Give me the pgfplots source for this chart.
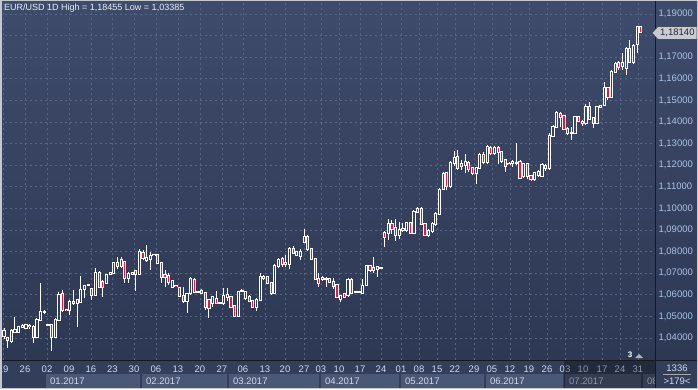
\documentclass[border=0pt]{standalone}
\usepackage{pgfplots}
\pgfplotsset{compat=1.18}
\usepackage{pgfplotstable}
\usepackage{fontspec}
\setmainfont{Liberation Sans}
\pgfdeclarelayer{background}
\pgfsetlayers{background,main}
\definecolor{bgtop}{RGB}{63,75,107}
\definecolor{bgbot}{RGB}{45,56,83}
\definecolor{gridc}{RGB}{88,102,134}
\definecolor{ylab}{RGB}{170,195,230}
\definecolor{xlab}{RGB}{205,218,238}
\definecolor{titlec}{RGB}{232,238,248}
\definecolor{datebg}{RGB}{50,62,90}
\definecolor{monthbox}{RGB}{75,88,117}
\definecolor{candred}{RGB}{225,25,60}
\definecolor{upA}{RGB}{49,60,88}
\definecolor{upB}{RGB}{53,65,94}
\definecolor{upC}{RGB}{58,70,101}
\definecolor{framec}{RGB}{196,200,208}
\definecolor{tagc}{RGB}{200,204,210}
\definecolor{tagtext}{RGB}{30,40,60}
\newcommand\lblfont{\fontsize{9.5}{11}\selectfont}

\pgfplotstableread{
o h l c
1.0409 1.0446 1.0395 1.0432
1.0400 1.0405 1.0354 1.0391
1.0386 1.0442 1.0377 1.0432
1.0428 1.0497 1.0423 1.0437
1.0428 1.0456 1.0423 1.0451
1.0451 1.0465 1.0446 1.0456
1.0446 1.0465 1.0442 1.0460
1.0456 1.0465 1.0442 1.0453
1.0451 1.0460 1.0377 1.0405
1.0405 1.0493 1.0400 1.0483
1.0483 1.0655 1.0479 1.0520
1.0520 1.0530 1.0511 1.0518
1.0460 1.0465 1.0456 1.0458
1.0460 1.0465 1.03385 1.0405
1.0405 1.0493 1.0400 1.0483
1.0483 1.0613 1.0479 1.0599
1.0604 1.0622 1.0520 1.0530
1.0530 1.0534 1.0525 1.0527
1.0530 1.0576 1.0506 1.0567
1.0567 1.0622 1.0553 1.0562
1.0562 1.0581 1.0451 1.0576
1.0567 1.0687 1.0562 1.0622
1.0627 1.0641 1.0585 1.0641
1.0645 1.0650 1.0641 1.0643
1.0627 1.0632 1.0576 1.0599
1.0599 1.0724 1.0594 1.0701
1.0701 1.0710 1.0632 1.0636
1.0659 1.0669 1.0590 1.0636
1.0655 1.0696 1.0650 1.0692
1.0696 1.0706 1.0692 1.0701
1.0701 1.0752 1.0696 1.0747
1.0747 1.0775 1.0719 1.0733
1.0733 1.0775 1.0724 1.0761
1.0752 1.0757 1.0655 1.0678
1.0678 1.0706 1.0655 1.0696
1.0696 1.0706 1.0692 1.0701
1.0710 1.0715 1.0618 1.0696
1.0696 1.0812 1.0692 1.0798
1.0794 1.0807 1.0761 1.0770
1.0761 1.0831 1.0752 1.0770
1.0766 1.0798 1.0715 1.0780
1.0784 1.0789 1.0780 1.0787
1.0784 1.0789 1.0743 1.0747
1.0747 1.0752 1.0655 1.0682
1.0692 1.0715 1.0636 1.0682
1.0687 1.0701 1.0645 1.0659
1.0636 1.0669 1.0632 1.0664
1.0641 1.0645 1.0636 1.0638
1.0632 1.0636 1.0590 1.0594
1.0594 1.0636 1.0562 1.0571
1.0571 1.0608 1.0516 1.0604
1.0608 1.0682 1.0599 1.0673
1.0669 1.0678 1.0608 1.0613
1.0613 1.0618 1.0608 1.0611
1.0618 1.0627 1.0604 1.0608
1.0608 1.0613 1.0530 1.0544
1.0576 1.0581 1.0493 1.0539
1.0562 1.0594 1.0544 1.0590
1.0581 1.0618 1.0557 1.0562
1.0562 1.0567 1.0557 1.0560
1.0562 1.0632 1.0553 1.0594
1.0590 1.0632 1.0571 1.0599
1.0590 1.0594 1.0539 1.0544
1.0548 1.0553 1.0497 1.0502
1.0502 1.0618 1.0497 1.0613
1.0618 1.0627 1.0613 1.0620
1.0585 1.0618 1.0576 1.0613
1.0590 1.0599 1.0567 1.0571
1.0571 1.0576 1.0539 1.0544
1.0544 1.0585 1.0525 1.0576
1.0576 1.0701 1.0571 1.0682
1.0678 1.0692 1.0669 1.0682
1.0682 1.0687 1.0650 1.0655
1.0655 1.0659 1.0599 1.0608
1.0608 1.0743 1.0604 1.0733
1.0733 1.0770 1.0724 1.0761
1.0766 1.0775 1.0729 1.0743
1.0743 1.0784 1.0729 1.0747
1.0743 1.0821 1.0719 1.0812
1.0812 1.0826 1.0789 1.0794
1.0784 1.0803 1.0780 1.0798
1.0780 1.0812 1.0761 1.0798
1.0844 1.0906 1.0840 1.0868
1.0868 1.0877 1.0803 1.0812
1.0812 1.0817 1.0761 1.0766
1.0766 1.0770 1.0669 1.0673
1.0673 1.0701 1.0636 1.0655
1.0673 1.0687 1.0664 1.0678
1.0673 1.0682 1.0636 1.0671
1.0673 1.0678 1.0655 1.0659
1.0659 1.0678 1.0627 1.0641
1.0645 1.0650 1.0585 1.0590
1.0581 1.0599 1.0567 1.0594
1.0604 1.0608 1.0585 1.0590
1.0599 1.0678 1.0590 1.0669
1.0669 1.0678 1.0604 1.0608
1.0613 1.0618 1.0608 1.0615
1.0613 1.0618 1.0608 1.0614
1.0608 1.0673 1.0608 1.0641
1.0645 1.0738 1.0641 1.0733
1.0733 1.0738 1.0706 1.0715
1.0715 1.0775 1.0701 1.0724
1.0719 1.0733 1.0682 1.0729
1.0724 1.0724 1.0719 1.0722
1.0886 1.0895 1.0821 1.0868
1.0886 1.0951 1.0854 1.0928
1.0928 1.0946 1.0882 1.0905
1.0909 1.0951 1.0849 1.0877
1.0877 1.0937 1.0858 1.0900
1.0900 1.0932 1.0891 1.0905
1.0900 1.0937 1.0891 1.0932
1.0932 1.0937 1.0882 1.0886
1.0886 1.0993 1.0882 1.0983
1.0983 1.1007 1.0979 1.0997
1.0997 1.1007 1.0923 1.0928
1.0928 1.0932 1.0872 1.0877
1.0877 1.0905 1.0868 1.0895
1.0895 1.0937 1.0886 1.0928
1.0928 1.0983 1.0919 1.0974
1.0974 1.1095 1.0969 1.1085
1.1090 1.1169 1.1085 1.1159
1.1164 1.1169 1.1085 1.1104
1.1104 1.1220 1.1095 1.1210
1.1210 1.1266 1.1196 1.1233
1.1238 1.1270 1.1178 1.1187
1.1196 1.1224 1.1178 1.1206
1.1201 1.1252 1.1164 1.1215
1.1210 1.1220 1.1169 1.1182
1.1187 1.1192 1.1155 1.1164
1.1164 1.1192 1.1113 1.1187
1.1187 1.1257 1.1182 1.1247
1.1247 1.1261 1.1206 1.1215
1.1215 1.1294 1.1206 1.1284
1.1280 1.1289 1.1247 1.1257
1.1257 1.1289 1.1247 1.1280
1.1280 1.1289 1.1206 1.1261
1.1261 1.1266 1.1210 1.1220
1.1224 1.1229 1.1169 1.1196
1.1206 1.1215 1.1201 1.1203
1.1210 1.1224 1.1192 1.1215
1.1210 1.1303 1.1201 1.1208
1.1215 1.1224 1.1136 1.1141
1.1150 1.1210 1.1141 1.1206
1.1206 1.1210 1.1136 1.1150
1.1150 1.1155 1.1127 1.1136
1.1136 1.1169 1.1127 1.1164
1.1155 1.1178 1.1145 1.1169
1.1150 1.1210 1.1145 1.1201
1.1196 1.1206 1.1173 1.1187
1.1187 1.1349 1.1178 1.1335
1.1335 1.1386 1.1331 1.1377
1.1377 1.1451 1.1377 1.1442
1.1437 1.1446 1.1377 1.1423
1.1428 1.1432 1.1363 1.1368
1.1368 1.1377 1.1340 1.1349
1.1349 1.1377 1.1317 1.1347
1.1349 1.1428 1.1349 1.1423
1.1423 1.1428 1.1400 1.1405
1.1400 1.1409 1.1382 1.1395
1.1395 1.1483 1.1386 1.1470
1.1470 1.1493 1.1409 1.1414
1.1419 1.1423 1.1372 1.1395
1.1395 1.1474 1.1391 1.1470
1.1470 1.1479 1.1465 1.1474
1.1479 1.1585 1.1474 1.1558
1.1558 1.1562 1.1502 1.1516
1.1516 1.1641 1.1511 1.1632
1.1632 1.1678 1.1627 1.1669
1.1673 1.1683 1.1641 1.1655
1.1659 1.1720 1.1641 1.1673
1.1650 1.1747 1.1618 1.1738
1.1738 1.1780 1.1673 1.1678
1.1678 1.1761 1.1669 1.1752
1.1761 1.18455 1.1720 1.1840
1.1840 1.1843 1.1812 1.1814
}\candles

\pgfplotsset{candle/.style={draw=none, mark=none, forget plot, error bars/.cd, y dir=minus, y explicit, error mark=none}}

\begin{document}
\begin{tikzpicture}
\begin{axis}[
  name=ax, at={(0pt,0pt)}, anchor=south west,
  scale only axis, width=655pt, height=360pt,
  xmin=-1.093, xmax=177.87, ymin=1.02981, ymax=1.19648,
  axis line style={draw=none},
  major tick length=0pt,
  xtick={-0.27,5.74,11.75,17.76,23.77,29.64,35.52,41.53,47.54,53.55,59.56,65.30,71.31,76.78,81.97,86.61,91.53,97.27,103.01,108.47,113.39,118.31,123.22,128.42,133.33,138.25,143.44,148.36,153.28,158.20,163.39,168.31,173.22},
  xticklabels={19,26,02,09,16,23,30,06,13,20,27,06,13,20,27,03,10,17,24,01,08,15,22,29,05,12,19,26,03,10,17,24,31},
  ytick={1.04,1.05,1.06,1.07,1.08,1.09,1.10,1.11,1.12,1.13,1.14,1.15,1.16,1.17,1.18,1.19},
  yticklabels={{1,04000},{1,05000},{1,06000},{1,07000},{1,08000},{1,09000},{1,10000},{1,11000},{1,12000},{1,13000},{1,14000},{1,15000},{1,16000},{1,17000},{},{1,19000}},
  yticklabel pos=right,
  grid=major,
  major grid style={draw=gridc, line width=0.7pt, dash pattern=on 2pt off 3pt},
  xticklabel style={anchor=center, yshift=-9pt, text=xlab, font=\lblfont},
  yticklabel style={anchor=west, text=ylab, font=\lblfont},
]
\addplot[candle, error bar style={draw=white, line width=1pt}]
  table[x expr=\coordindex, y=h, y error minus expr={\thisrow{h}-\thisrow{l}}] {\candles};
\addplot[candle, error bar style={draw=white, line width=3.2pt}]
  table[x expr=\coordindex, y expr={max(\thisrow{o},\thisrow{c})+0.00035}, y error minus expr={abs(\thisrow{o}-\thisrow{c})+0.0007}] {\candles};
\addplot[candle, error bar style={draw=candred, line width=1.2pt}]
  table[x expr=\coordindex, y expr={\thisrow{o}-0.00012}, y error minus expr={max(\thisrow{o}-\thisrow{c}-0.00024,0)}] {\candles};
\addplot[restrict x to domain=-1:103.5, candle, error bar style={draw=upA, line width=1.2pt}]
  table[x expr=\coordindex, y expr={\thisrow{c}-0.00012}, y error minus expr={max(\thisrow{c}-\thisrow{o}-0.00024,0)}] {\candles};
\addplot[restrict x to domain=103.5:148.5, candle, error bar style={draw=upB, line width=1.2pt}]
  table[x expr=\coordindex, y expr={\thisrow{c}-0.00012}, y error minus expr={max(\thisrow{c}-\thisrow{o}-0.00024,0)}] {\candles};
\addplot[restrict x to domain=148.5:180, candle, error bar style={draw=upC, line width=1.2pt}]
  table[x expr=\coordindex, y expr={\thisrow{c}-0.00012}, y error minus expr={max(\thisrow{c}-\thisrow{o}-0.00024,0)}] {\candles};
\end{axis}
\begin{pgfonlayer}{background}
\begin{scope}[shift={(ax.south west)}, x=1pt, y=1pt]
\shade[top color=bgtop, bottom color=bgbot] (0,0) rectangle (698,360);
\fill[datebg] (0,-29) rectangle (698,0);
\begin{scope}
\clip (0,-29) rectangle (655,0);
\foreach \a/\b/\t in {46/140/01.2017,142/227/02.2017,229/319/03.2017,321/399/04.2017,401/484/05.2017,486/563/06.2017,565/641/07.2017,643/700/08}{
  \fill[monthbox] (\a,-29) rectangle (\b,-14);
  \node[anchor=west, text=xlab, font=\lblfont, inner sep=0] at (\a+4,-21.5) {\t};
}
\end{scope}
\end{scope}
\end{pgfonlayer}
\begin{scope}[shift={(ax.south west)}, x=1pt, y=1pt]
\fill[black, opacity=0.3] (564,-29) rectangle (655,-0.5);
\draw[black!90, line width=1pt] (0,0) -- (698,0);
\draw[black!90, line width=1pt] (655.5,-29) -- (655.5,360);
\node[anchor=west, text=titlec, font=\fontsize{9}{10}\selectfont, inner sep=0] at (4,352) {EUR/USD 1D High = 1,18455 Low = 1,03385};
\filldraw[fill=tagc, draw=gray!60!black, line width=0.6pt] (652,327) -- (658,333.5) -- (697,333.5) -- (697,320.5) -- (658,320.5) -- cycle;
\node[anchor=west, text=tagtext, font=\lblfont, inner sep=0] at (660,327) {1,18140};
\node[text=white, font=\bfseries\fontsize{8}{9}\selectfont, inner sep=0] at (630,5) {3};
\fill[gray!60] (635,2) -- (643,2) -- (639,6) -- cycle;
\node[text=xlab, font=\lblfont, inner sep=0] at (677,-8) {1336};
\draw[gray!70, line width=0.6pt] (663,-14.5) -- (691,-14.5);
\node[text=xlab, font=\lblfont, inner sep=0] at (677,-21) {>179<};
\draw[framec, line width=1.5pt] (0.75,-28.25) rectangle (697.25,359.25);
\end{scope}
\pgfresetboundingbox
\path[use as bounding box] ([xshift=0pt,yshift=-29pt]ax.south west) rectangle ([xshift=698pt,yshift=360pt]ax.south west);
\end{tikzpicture}
\end{document}
